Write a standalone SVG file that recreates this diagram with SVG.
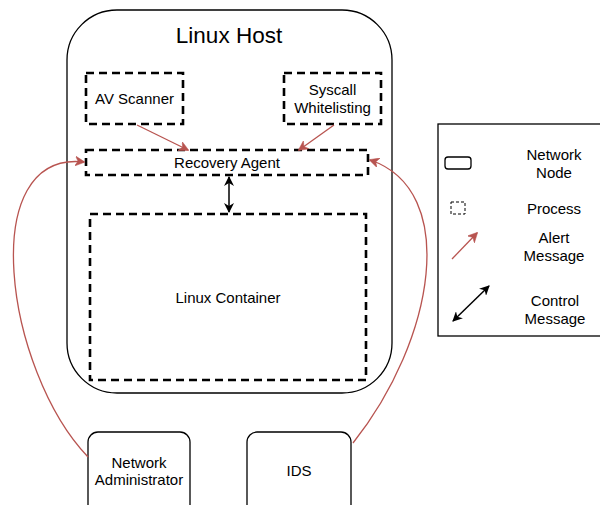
<svg xmlns="http://www.w3.org/2000/svg" width="600" height="505" viewBox="0 0 600 505">
  <style>
    text { font-family: "Liberation Sans", Arial, sans-serif; font-size: 15px; fill: #000; text-anchor: middle; dominant-baseline: central; }
    .title { font-size: 22.5px; }
    .host { fill: #fff; stroke: #000; stroke-width: 1.3; }
    .node { fill: #fff; stroke: #000; stroke-width: 1.3; }
    .proc { fill: #fff; stroke: #000; stroke-width: 2.6; stroke-dasharray: 8 5; }
    .alert { fill: none; stroke: #b85450; stroke-width: 1.3; marker-end: url(#redHead); }
    .ctrl { fill: none; stroke: #000; stroke-width: 1.5; marker-start: url(#blackHeadStart); marker-end: url(#blackHead); }
  </style>
  <defs>
    <marker id="redHead" viewBox="0 0 10 10" refX="9" refY="5" markerWidth="10" markerHeight="10" markerUnits="userSpaceOnUse" orient="auto">
      <path d="M0,0 L10,5 L0,10 L3,5 Z" fill="#b85450" stroke="#b85450" stroke-width="0.5"/>
    </marker>
    <marker id="blackHead" viewBox="0 0 10 10" refX="9" refY="5" markerWidth="10" markerHeight="10" markerUnits="userSpaceOnUse" orient="auto">
      <path d="M0,0 L10,5 L0,10 L3,5 Z" fill="#000"/>
    </marker>
    <marker id="blackHeadStart" viewBox="0 0 10 10" refX="1" refY="5" markerWidth="10" markerHeight="10" markerUnits="userSpaceOnUse" orient="auto">
      <path d="M10,0 L0,5 L10,10 L7,5 Z" fill="#000"/>
    </marker>
  </defs>

  <rect width="600" height="505" fill="#fff"/>

  <g id="linux-host">
    <rect class="host" x="67" y="10" width="325" height="383" rx="50" ry="50"/>
    <text class="title" x="229" y="35">Linux Host</text>
  </g>

  <g id="av-scanner">
    <rect class="proc" x="86" y="73" width="97" height="51"/>
    <text x="134.5" y="98.5">AV Scanner</text>
  </g>

  <g id="syscall-whitelisting">
    <rect class="proc" x="284" y="73" width="97" height="51"/>
    <text x="332.5" y="89">Syscall</text>
    <text x="332.5" y="107">Whitelisting</text>
  </g>

  <g id="recovery-agent">
    <rect class="proc" x="86" y="150" width="282" height="25"/>
    <text x="227" y="162.5">Recovery Agent</text>
  </g>

  <g id="linux-container">
    <rect class="proc" x="90" y="214" width="276" height="166"/>
    <text x="228" y="297">Linux Container</text>
  </g>

  <g id="network-administrator">
    <rect class="node" x="88" y="432" width="102" height="90" rx="10" ry="10"/>
    <text x="139" y="462">Network</text>
    <text x="139" y="479">Administrator</text>
  </g>

  <g id="ids">
    <rect class="node" x="247" y="432" width="104" height="90" rx="10" ry="10"/>
    <text x="299" y="470">IDS</text>
  </g>

  <g id="connectors">
    <path class="alert" d="M137,125 L188,150"/>
    <path class="alert" d="M334,125 L299,150"/>
    <path class="ctrl" d="M229,177 L229,212"/>
    <path class="alert" d="M88,457 C5,370 -25,150 84,162"/>
    <path class="alert" d="M353,443 C435,340 460,190 370,160"/>
  </g>

  <g id="legend">
    <rect x="438" y="124" width="170" height="212" fill="#fff" stroke="#000" stroke-width="1.3"/>
    <rect x="445" y="157" width="26" height="12" rx="3" ry="3" fill="#fff" stroke="#000" stroke-width="1.3"/>
    <text x="554" y="154">Network</text>
    <text x="554" y="172">Node</text>
    <rect x="451" y="202" width="14" height="12" fill="#fff" stroke="#000" stroke-width="1" stroke-dasharray="3 2"/>
    <text x="554" y="208">Process</text>
    <path class="alert" d="M452,259 L477,233"/>
    <text x="554" y="237">Alert</text>
    <text x="554" y="255">Message</text>
    <path class="ctrl" d="M453,321 L489,286"/>
    <text x="555" y="300">Control</text>
    <text x="555" y="318">Message</text>
  </g>
</svg>
